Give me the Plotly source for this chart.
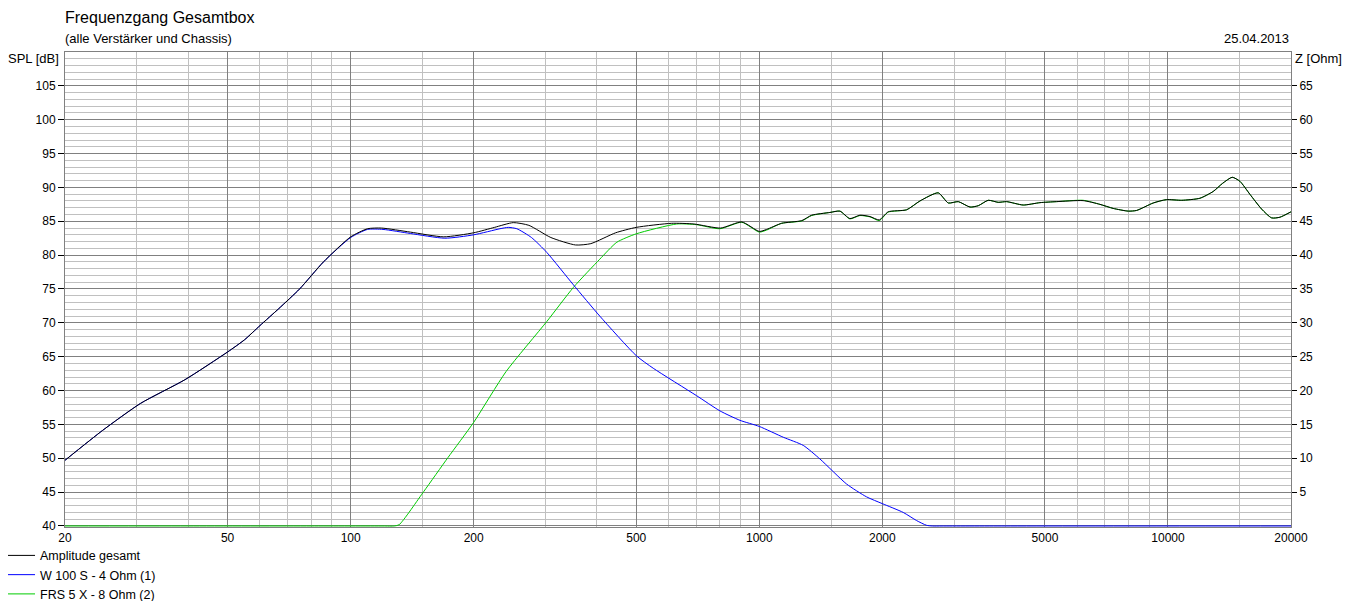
import plotly.graph_objects as go

# Amplitude gesamt (schwarz)
freq_total = [20, 24.7, 30.6, 39.3, 50, 55, 60, 66.7, 75, 85.8, 100, 110, 119, 140, 169,
              200, 225, 250, 273, 309, 355, 387, 445, 500, 610, 692, 804, 906, 1000, 1042,
              1134, 1270, 1343, 1488, 1575, 1666, 1763, 1866, 1966, 2067, 2294, 2472, 2740,
              2900, 3068, 3278, 3434, 3632, 3842, 4028, 4424, 4860, 5340, 6200, 6814, 7345,
              7992, 8380, 9200, 9920, 10800, 11970, 12900, 13600, 14360, 15000, 15860, 16950,
              17930, 18790, 20000]
spl_total = [49.7, 54.1, 58.1, 61.6, 65.7, 67.5, 69.6, 72.1, 75.0, 79.0, 82.7, 83.9, 84.0, 83.4, 82.7,
             83.3, 84.1, 84.8, 84.4, 82.6, 81.5, 81.7, 83.3, 84.1, 84.7, 84.6, 84.0, 84.9, 83.5, 83.8,
             84.7, 85.1, 85.9, 86.3, 86.5, 85.4, 85.9, 85.7, 85.2, 86.4, 86.7, 88.0, 89.2,
             87.7, 87.9, 87.1, 87.3, 88.1, 87.8, 87.9, 87.4, 87.75, 87.9, 88.05, 87.5, 86.9,
             86.5, 86.6, 87.7, 88.2, 88.1, 88.4, 89.4, 90.6, 91.5, 90.9, 89.0, 86.8,
             85.5, 85.6, 86.4]

# W 100 S - 4 Ohm (blau), unter 40 dB am unteren Rand
freq_woofer = [20, 24.7, 30.6, 39.3, 50, 55, 60, 66.7, 75, 85.8, 100, 110, 120, 140, 170,
               200, 232, 243, 255, 277, 302, 351, 407, 500, 550, 702, 801, 897, 1000, 1145,
               1281, 1407, 1635, 1830, 2000, 2250, 2426, 2566, 2650, 2800, 4000, 20000]
spl_woofer = [49.7, 54.1, 58.1, 61.6, 65.7, 67.5, 69.6, 72.1, 75.0, 79.0, 82.6, 83.8, 83.8, 83.2, 82.5,
              83.0, 83.9, 84.1, 83.9, 82.6, 80.4, 75.6, 71.0, 65.15, 63.3, 59.25, 57.0, 55.6, 54.7, 53.1,
              51.9, 49.9, 46.2, 44.3, 43.3, 42.0, 40.8, 40.1, 40.0, 40.0, 40.0, 40.0]

# FRS 5 X - 8 Ohm (gruen), unter 40 dB am unteren Rand
freq_tweeter = [20, 40, 80, 120, 128, 131.5, 151, 173, 200, 240, 302, 351, 407, 448, 500, 628, 702, 801,
                906, 1000, 1042, 1134, 1270, 1343, 1488, 1575, 1666, 1763, 1866, 1966, 2067,
                2294, 2472, 2740, 2900, 3068, 3278, 3434, 3632, 3842, 4028, 4424, 4860, 5340,
                6200, 6814, 7345, 7992, 8380, 9200, 9920, 10800, 11970, 12900, 13600, 14360,
                15000, 15860, 16950, 17930, 18790, 20000]
spl_tweeter = [40.0, 40.0, 40.0, 40.0, 40.0, 40.2, 45.1, 50.1, 55.3, 62.8, 70.2, 75.25, 79.4, 81.9, 83.15,
               84.6, 84.5, 83.9,
               84.85, 83.4, 83.7, 84.7, 85.05, 85.85, 86.3, 86.5, 85.35, 85.85, 85.65, 85.1, 86.35,
               86.7, 88.0, 89.2, 87.7, 87.9, 87.1, 87.3, 88.1, 87.8, 87.9, 87.4, 87.75, 87.9,
               88.1, 87.5, 86.9, 86.5, 86.6, 87.7, 88.2, 88.1, 88.4, 89.4, 90.6, 91.5,
               90.9, 89.0, 86.8, 85.5, 85.6, 86.4]

# Achsen
x_ticks = [20, 50, 100, 200, 500, 1000, 2000, 5000, 10000, 20000]
x_minor = [30, 40, 60, 70, 80, 90, 150, 300, 400, 600, 700, 800, 900, 1500,
           3000, 4000, 6000, 7000, 8000, 9000, 15000]
spl_ticks = [40, 45, 50, 55, 60, 65, 70, 75, 80, 85, 90, 95, 100, 105]
z_ticks = [5, 10, 15, 20, 25, 30, 35, 40, 45, 50, 55, 60, 65]

font = "Liberation Sans"
line_style = dict(width=1, shape="spline", smoothing=0.6)

fig = go.Figure()

# gruen und blau zuerst, schwarz liegt oben
fig.add_trace(go.Scatter(x=freq_tweeter, y=spl_tweeter, mode="lines", name="FRS 5 X - 8 Ohm (2)",
                         line=dict(color="#00cc00", **line_style), legendrank=3))
fig.add_trace(go.Scatter(x=freq_woofer, y=spl_woofer, mode="lines", name="W 100 S - 4 Ohm (1)",
                         line=dict(color="#0000ff", **line_style), legendrank=2))
fig.add_trace(go.Scatter(x=freq_total, y=spl_total, mode="lines", name="Amplitude gesamt",
                         line=dict(color="#000000", **line_style), legendrank=1))
# unsichtbare Spur fuer die rechte Achse (Impedanz)
fig.add_trace(go.Scatter(x=[20], y=[0], yaxis="y2", mode="markers", marker=dict(opacity=0),
                         showlegend=False, hoverinfo="skip"))

# die Seite hat 8px Rand, daher alles um 8px verschoben
fig.update_layout(
    width=1343,
    height=593,
    margin=dict(l=57, r=60, t=44, b=74, autoexpand=False),
    paper_bgcolor="white",
    plot_bgcolor="white",
    font=dict(family=font, size=12, color="black"),
    showlegend=True,
    legend=dict(x=-0.053, y=-0.029, xanchor="left", yanchor="top", bgcolor="rgba(0,0,0,0)",
                font=dict(size=12.5), itemwidth=30, tracegroupgap=0),
    xaxis=dict(
        type="log",
        range=[1.30103, 4.30103],
        tickvals=x_ticks,
        ticktext=[str(v) for v in x_ticks],
        ticks="",
        showgrid=True,
        gridcolor="#808080",
        gridwidth=1,
        minor=dict(tickvals=x_minor, showgrid=True, gridcolor="#c0c0c0", gridwidth=1, ticks=""),
        showline=True,
        linecolor="#808080",
        mirror=True,
        zeroline=False,
        tickfont=dict(size=12),
    ),
    yaxis=dict(
        range=[39.85, 110],
        tickvals=spl_ticks,
        ticks="outside",
        ticklen=6,
        tickcolor="black",
        showgrid=True,
        gridcolor="#808080",
        gridwidth=1,
        minor=dict(dtick=1, showgrid=True, gridcolor="#c0c0c0", gridwidth=1),
        showline=True,
        linecolor="#808080",
        mirror=True,
        zeroline=False,
        tickfont=dict(size=12),
    ),
    yaxis2=dict(
        overlaying="y",
        side="right",
        range=[-0.15, 70],
        tickvals=z_ticks,
        ticks="outside",
        ticklen=5,
        tickcolor="black",
        showgrid=False,
        zeroline=False,
        tickfont=dict(size=12),
    ),
    annotations=[
        dict(text="Frequenzgang Gesamtbox", x=-0.002, y=1.072, xref="paper", yref="paper",
             xanchor="left", yanchor="middle", showarrow=False, font=dict(size=16)),
        dict(text="(alle Verstärker und Chassis)", x=-0.002, y=1.029, xref="paper", yref="paper",
             xanchor="left", yanchor="middle", showarrow=False, font=dict(size=13)),
        dict(text="25.04.2013", x=1.0, y=1.029, xref="paper", yref="paper",
             xanchor="right", yanchor="middle", showarrow=False, font=dict(size=13)),
        dict(text="SPL [dB]", x=-0.003, y=0.987, xref="paper", yref="paper",
             xanchor="right", yanchor="middle", showarrow=False, font=dict(size=13)),
        dict(text="Z [Ohm]", x=1.002, y=0.987, xref="paper", yref="paper",
             xanchor="left", yanchor="middle", showarrow=False, font=dict(size=13)),
    ],
)

fig.write_html("out.html")
